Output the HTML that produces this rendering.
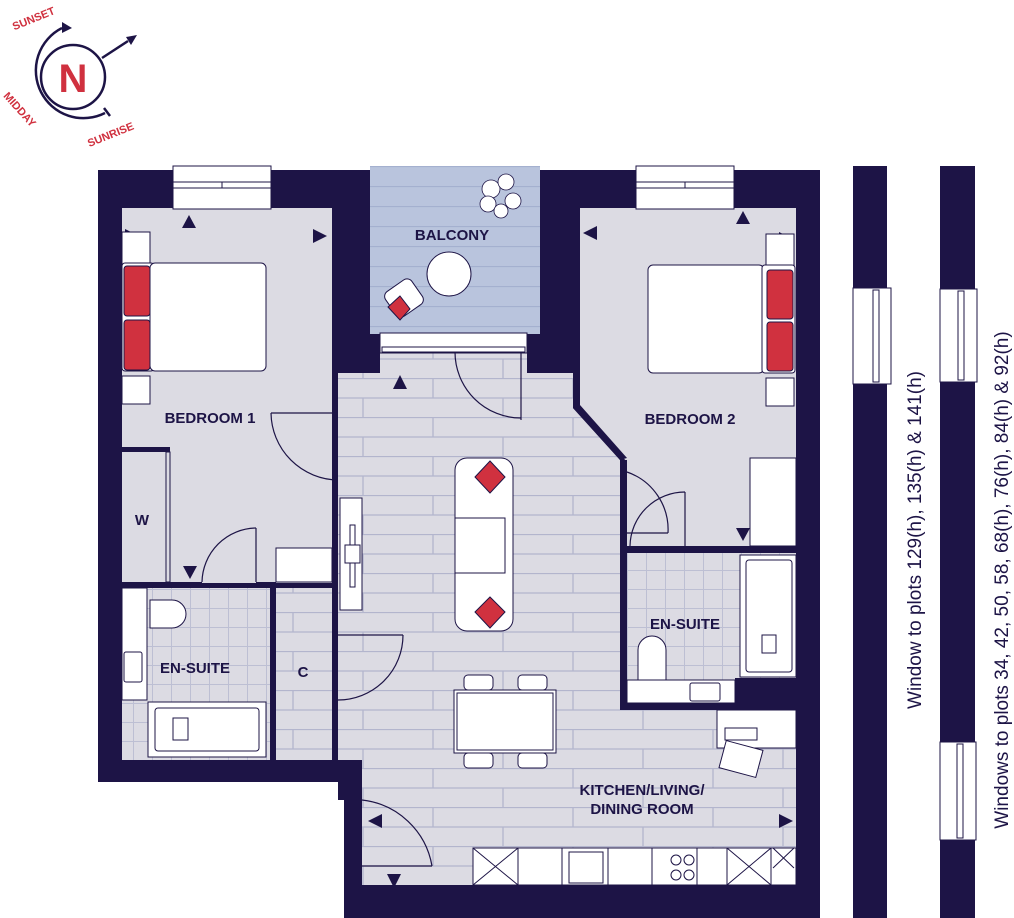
<!DOCTYPE html>
<html><head><meta charset="utf-8"><style>
html,body{margin:0;padding:0;background:#fff}
svg{display:block}
text{font-family:"Liberation Sans",sans-serif;font-weight:bold;fill:#1d1446}
</style></head><body>
<svg width="1014" height="918" viewBox="0 0 1014 918" xmlns="http://www.w3.org/2000/svg">
<defs>
<pattern id="tile" x="0" y="378" width="140" height="39" patternUnits="userSpaceOnUse">
<rect width="140" height="39" fill="#dcdbe3"/>
<line x1="0" y1="0.5" x2="140" y2="0.5" stroke="#b3b5cd" stroke-width="1.3"/>
<line x1="0" y1="20" x2="140" y2="20" stroke="#b3b5cd" stroke-width="1.3"/>
<line x1="13" y1="0" x2="13" y2="20" stroke="#b3b5cd" stroke-width="1.3"/>
<line x1="83" y1="20" x2="83" y2="39" stroke="#b3b5cd" stroke-width="1.3"/>
</pattern>
<pattern id="btile" x="0" y="166" width="170" height="20" patternUnits="userSpaceOnUse">
<rect width="170" height="20" fill="#b9c4dd"/>
<line x1="0" y1="0.5" x2="170" y2="0.5" stroke="#a4b0cf" stroke-width="1.3"/>
</pattern>
<pattern id="sq" x="0" y="0" width="19" height="19" patternUnits="userSpaceOnUse">
<rect width="19" height="19" fill="#dcdbe3"/>
<path d="M0 0.5H19M0.5 0V19" stroke="#bdbfd3" stroke-width="1"/>
</pattern>
</defs>

<!-- compass -->
<g fill="none" stroke="#1d1446" stroke-width="2.5">
<circle cx="73" cy="77" r="32"/>
<path d="M62 28 A42 42 0 1 0 105 113"/>
<line x1="104" y1="108" x2="110" y2="116"/>
<line x1="102" y1="58" x2="128" y2="41"/>
</g>
<polygon points="62,22 72,28 62,33" fill="#1d1446"/>
<polygon points="137,35 126,37 131,45" fill="#1d1446"/>
<text x="73" y="92" text-anchor="middle" font-size="40" style="fill:#d0313f">N</text>
<text x="35" y="22" font-size="11" style="fill:#d0313f" transform="rotate(-22 35 22)" text-anchor="middle">SUNSET</text>
<text x="17" y="112" font-size="11" style="fill:#d0313f" transform="rotate(48 17 112)" text-anchor="middle">MIDDAY</text>
<text x="112" y="138" font-size="11" style="fill:#d0313f" transform="rotate(-22 112 138)" text-anchor="middle">SUNRISE</text>

<path d="M98 170 H370 V166 H540 V170 H820 V918 H344 V782 H98 Z" fill="#1d1446"/>

<rect x="370" y="166" width="170" height="168" fill="url(#btile)"/>
<path d="M338 373 H380 V352 H527 V373 H573 V408 L620 460 V705 H796 V885 H362 V800 H338 Z" fill="url(#tile)"/>
<rect x="122" y="208" width="210" height="375" fill="#dcdbe3"/>
<path d="M580 208 H796 V546 H627 V470 L627 462 L580 410 Z" fill="#dcdbe3"/>
<rect x="627" y="553" width="169" height="150" fill="url(#sq)"/>
<rect x="735" y="678" width="61" height="32" fill="#1d1446"/>
<rect x="122" y="588" width="148" height="172" fill="url(#sq)"/>
<rect x="276" y="588" width="56" height="172" fill="url(#tile)"/>

<g fill="#1d1446">
<rect x="332" y="373" width="6" height="40"/>
<rect x="332" y="480" width="6" height="155"/>
<rect x="332" y="700" width="6" height="60"/>
<rect x="122" y="447" width="48" height="5"/>
<rect x="122" y="582" width="80" height="6"/>
<rect x="256" y="582" width="20" height="6"/>
<rect x="270" y="582" width="6" height="178"/>
<rect x="620" y="460" width="7" height="12"/>
<rect x="620" y="533" width="7" height="175"/>
<rect x="620" y="546" width="10" height="7"/>
<rect x="668" y="546" width="128" height="7"/>
<rect x="620" y="703" width="176" height="7"/>
<rect x="338" y="760" width="24" height="40"/>
<rect x="344" y="880" width="18" height="38"/>
<path d="M573 372 V408 L620 460 L627 458 L580 405 V372 Z"/>
</g>

<g fill="#fff" stroke="#1d1446" stroke-width="1">
<rect x="173" y="166" width="98" height="43"/>
<rect x="173" y="182" width="98" height="6"/>
<line x1="222" y1="182" x2="222" y2="188"/>
<rect x="636" y="166" width="98" height="43"/>
<rect x="636" y="182" width="98" height="6"/>
<line x1="685" y1="182" x2="685" y2="188"/>
<rect x="380" y="333" width="147" height="20"/>
<rect x="382" y="347" width="143" height="5"/>
</g>

<g fill="#1d1446">
<polygon points="182,228 196,228 189,215"/>
<polygon points="313,229 313,243 327,236"/>
<polygon points="139,236 125,229 125,243" />
<polygon points="393,389 407,389 400,375"/>
<polygon points="597,226 583,233 597,240"/>
<polygon points="736,224 750,224 743,211"/>
<polygon points="779,232 793,239 779,246"/>
<polygon points="183,566 197,566 190,579"/>
<polygon points="736,528 750,528 743,541"/>
<polygon points="382,814 368,821 382,828"/>
<polygon points="779,814 793,821 779,828"/>
<polygon points="387,874 401,874 394,888"/>
</g>

<g fill="none" stroke="#1d1446" stroke-width="1.2">
<path d="M271 413 A68 68 0 0 0 338 480"/>
<line x1="271" y1="413" x2="332" y2="413"/>
<path d="M455 352 A66 66 0 0 0 521 418"/>
<line x1="521" y1="352" x2="521" y2="420"/>
<path d="M202 582 A55 55 0 0 1 256 528"/>
<line x1="256" y1="528" x2="256" y2="582"/>
<path d="M403 635 A65 65 0 0 1 338 700"/>
<line x1="338" y1="635" x2="403" y2="635"/>
<path d="M627 472 A61 61 0 0 1 668 533"/>
<line x1="627" y1="533" x2="668" y2="533"/>
<path d="M630 546 A55 55 0 0 1 685 492"/>
<line x1="685" y1="492" x2="685" y2="546"/>
<path d="M362 800 A80 80 0 0 1 432 866"/>
<line x1="362" y1="866" x2="432" y2="866"/>
</g>

<g stroke="#1d1446" stroke-width="1" fill="#fff">
<rect x="122" y="232" width="28" height="34"/>
<rect x="122" y="263" width="32" height="108" rx="3"/>
<rect x="150" y="263" width="116" height="108" rx="5"/>
<rect x="122" y="376" width="28" height="28"/>
<rect x="766" y="234" width="28" height="32"/>
<rect x="648" y="265" width="116" height="108" rx="5"/>
<rect x="762" y="265" width="33" height="108" rx="3"/>
<rect x="766" y="378" width="28" height="28"/>
<rect x="750" y="458" width="46" height="88"/>
<rect x="166" y="452" width="4" height="130" fill="#dcdbe3"/>
<rect x="276" y="548" width="56" height="34"/>
<rect x="340" y="498" width="22" height="112"/>
<rect x="350" y="525" width="5" height="62"/>
<rect x="345" y="545" width="15" height="18"/>
<rect x="455" y="458" width="58" height="173" rx="12"/>
<rect x="455" y="518" width="50" height="55"/>
<rect x="454" y="690" width="102" height="63"/>
<rect x="457" y="693" width="96" height="57"/>
<rect x="464" y="675" width="29" height="15" rx="4"/>
<rect x="518" y="675" width="29" height="15" rx="4"/>
<rect x="464" y="753" width="29" height="15" rx="4"/>
<rect x="518" y="753" width="29" height="15" rx="4"/>
<circle cx="449" cy="274" r="22"/>
<rect x="388" y="283" width="32" height="30" rx="6" transform="rotate(-35 404 298)"/>
<rect x="122" y="588" width="25" height="112"/>
<path d="M150 600 H172 A14 14 0 0 1 172 628 H150 Z"/>
<rect x="124" y="652" width="18" height="30" rx="2"/>
<rect x="148" y="702" width="118" height="55"/>
<rect x="155" y="708" width="104" height="43" rx="3"/>
<rect x="173" y="718" width="15" height="22"/>
<rect x="740" y="555" width="56" height="122"/>
<rect x="746" y="560" width="46" height="112" rx="3"/>
<rect x="762" y="635" width="14" height="18"/>
<path d="M638 680 V650 A14 14 0 0 1 666 650 V680 Z"/>
<rect x="627" y="680" width="108" height="23"/>
<rect x="690" y="683" width="30" height="18" rx="2"/>
<rect x="717" y="710" width="79" height="38"/>
<rect x="725" y="728" width="32" height="12"/>
<rect x="722" y="745" width="38" height="28" transform="rotate(15 741 759)"/>
<rect x="473" y="848" width="323" height="37"/>
<line x1="518" y1="848" x2="518" y2="885"/>
<line x1="562" y1="848" x2="562" y2="885"/>
<line x1="608" y1="848" x2="608" y2="885"/>
<line x1="652" y1="848" x2="652" y2="885"/>
<line x1="697" y1="848" x2="697" y2="885"/>
<line x1="727" y1="848" x2="727" y2="885"/>
<line x1="771" y1="848" x2="771" y2="885"/>
<rect x="569" y="852" width="34" height="31"/>
<circle cx="676" cy="860" r="5"/><circle cx="689" cy="860" r="5"/>
<circle cx="676" cy="875" r="5"/><circle cx="689" cy="875" r="5"/>
<path d="M473 848 L518 885 M518 848 L473 885 M727 848 L771 885 M771 848 L727 885 M773 848 L794 868 M794 848 L773 868" fill="none"/>
</g>
<g fill="#d0313f" stroke="#1d1446" stroke-width="1">
<rect x="124" y="266" width="26" height="50" rx="3"/>
<rect x="124" y="320" width="26" height="50" rx="3"/>
<rect x="767" y="270" width="26" height="49" rx="3"/>
<rect x="767" y="322" width="26" height="49" rx="3"/>
<polygon points="490,461 505,477 490,493 475,477"/>
<polygon points="490,597 505,612 490,628 475,612"/>
<polygon points="400,296 410,309 400,320 388,307"/>
</g>
<g fill="#fff" stroke="#1d1446" stroke-width="0.8">
<circle cx="491" cy="189" r="9"/><circle cx="506" cy="182" r="8"/><circle cx="513" cy="201" r="8"/><circle cx="488" cy="204" r="8"/><circle cx="501" cy="211" r="7"/>
</g>

<text x="210" y="423" font-size="15" text-anchor="middle">BEDROOM 1</text>
<text x="452" y="240" font-size="15" text-anchor="middle">BALCONY</text>
<text x="690" y="424" font-size="15" text-anchor="middle">BEDROOM 2</text>
<text x="142" y="525" font-size="15" text-anchor="middle">W</text>
<text x="195" y="673" font-size="15" text-anchor="middle">EN-SUITE</text>
<text x="685" y="629" font-size="15" text-anchor="middle">EN-SUITE</text>
<text x="303" y="677" font-size="15" text-anchor="middle">C</text>
<text x="642" y="795" font-size="15" text-anchor="middle">KITCHEN/LIVING/</text>
<text x="642" y="814" font-size="15" text-anchor="middle">DINING ROOM</text>

<rect x="853" y="166" width="34" height="752" fill="#1d1446"/>
<rect x="940" y="166" width="35" height="752" fill="#1d1446"/>
<g fill="#fff" stroke="#1d1446" stroke-width="1">
<rect x="853" y="288" width="38" height="96"/>
<rect x="873" y="290" width="6" height="92"/>
<rect x="940" y="289" width="37" height="93"/>
<rect x="958" y="291" width="6" height="89"/>
<rect x="940" y="742" width="36" height="98"/>
<rect x="957" y="744" width="6" height="94"/>
</g>
<text x="921" y="540" font-size="19" style="font-weight:normal" text-anchor="middle" transform="rotate(-90 921 540)">Window to plots 129(h), 135(h) &amp; 141(h)</text>
<text x="1008" y="580" font-size="19" style="font-weight:normal" text-anchor="middle" transform="rotate(-90 1008 580)">Windows to plots 34, 42, 50, 58, 68(h), 76(h), 84(h) &amp; 92(h)</text>
</svg>
</body></html>
